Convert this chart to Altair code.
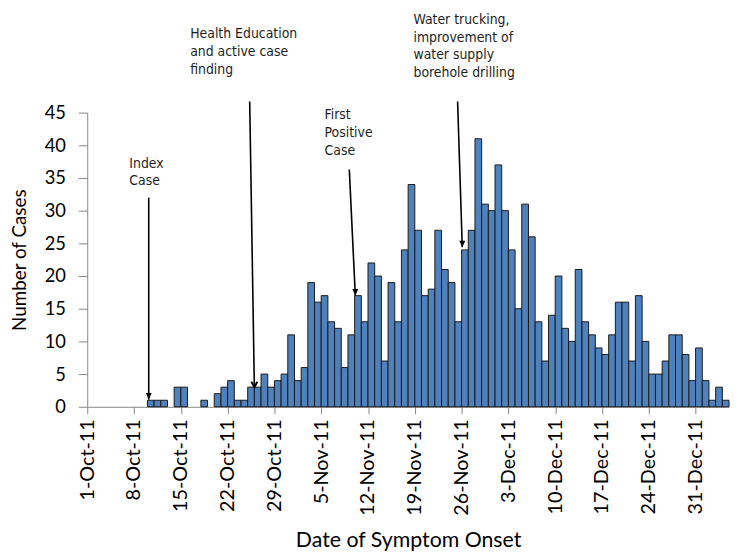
import altair as alt
import pandas as pd

# ---- data ----
first_onset = "2011-10-10"
cases = [1, 1, 1, 0, 3, 3, 0, 0, 1, 0, 2, 3, 4, 1, 1, 3, 3, 5, 3, 4, 5, 11,
         4, 6, 19, 16, 17, 13, 12, 6, 11, 17, 13, 22, 20, 7, 19, 13, 24, 34,
         27, 17, 18, 27, 21, 19, 13, 24, 27, 41, 31, 30, 37, 30, 24, 15, 31,
         26, 13, 7, 14, 20, 12, 10, 21, 13, 11, 9, 8, 11, 16, 16, 7, 17, 10,
         5, 5, 7, 11, 11, 8, 4, 9, 4, 1, 3, 1]

tick_dates = ["2011-10-01", "2011-10-08", "2011-10-15", "2011-10-22",
              "2011-10-29", "2011-11-05", "2011-11-12", "2011-11-19",
              "2011-11-26", "2011-12-03", "2011-12-10", "2011-12-17",
              "2011-12-24", "2011-12-31"]
y_ticks = [0, 5, 10, 15, 20, 25, 30, 35, 40, 45]

# annotations (day offsets from 1-Oct-11, y in cases units)
ann_text = ["Index\nCase", "Health  Education\nand  active  case\nfinding",
            "First\nPositive\nCase",
            "Water trucking,\nimprovement of\nwater supply\nborehole drilling"]
ann_text_day = [6.3, 15.4, 35.5, 48.8]
ann_text_y = [37.2, 57.0, 44.6, 59.2]
arrow_top_day = [9.2, 24.3, 39.2, 55.4]
arrow_top_y = [32.0, 46.7, 36.3, 46.7]
arrow_tip_day = [9.2, 25.0, 40.1, 56.1]
arrow_tip_y = [1.1, 3.0, 17.0, 24.4]
arrow_head = ["filled", "open", "filled", "filled"]

origin = pd.Timestamp("2011-10-01")


def iso(day):
    return (origin + pd.Timedelta(days=day)).strftime("%Y-%m-%dT%H:%M:%SZ")


dates = pd.date_range(first_onset, periods=len(cases), freq="D")
bars = pd.DataFrame({
    "start": [d.strftime("%Y-%m-%dT00:00:00Z") for d in dates],
    "end": [(d + pd.Timedelta(days=1)).strftime("%Y-%m-%dT00:00:00Z") for d in dates],
    "cases": cases,
})
bars = bars[bars["cases"] > 0]

texts = pd.DataFrame({"t": ann_text, "x": [iso(d) for d in ann_text_day], "y": ann_text_y})
rules = pd.DataFrame({
    "x": [iso(d) for d in arrow_top_day], "y": arrow_top_y,
    "x2": [iso(d) for d in arrow_tip_day], "y2": arrow_tip_y,
    "head": arrow_head,
})

FONT = "Lato"
NARROW = "Liberation Sans Narrow, DejaVu Sans Condensed, sans-serif"


def dt(s):
    y, m, d = (int(v) for v in s.split("-"))
    return alt.DateTime(year=y, month=m, date=d, utc=True)


xscale = alt.Scale(type="utc", domain=[dt("2011-10-01"), dt("2012-01-05")], padding=0)
yscale = alt.Scale(domain=[0, 45], nice=False, zero=True, padding=0)

XTITLE = "Date of Symptom Onset"
YTITLE = "Number of Cases"
xaxis = alt.Axis(values=[dt(s) for s in tick_dates],
                 labelExpr="utcFormat(datum.value, '%-d-%b-%y')",
                 labelAngle=-90, labelFontSize=20,
                 labelFont=FONT, labelColor="#000000", labelPadding=5,
                 tickSize=7, tickColor="#868686", domainColor="#868686",
                 grid=False, titleFont=FONT, titleFontSize=21.5,
                 titleFontWeight="normal", titleColor="#000000",
                 titlePadding=14, labelOverlap=False, labelFlush=False)
yaxis = alt.Axis(values=y_ticks, labelFontSize=18.5, labelFont=FONT,
                 labelColor="#000000", labelPadding=13, tickSize=9,
                 tickColor="#868686", domainColor="#868686", grid=False,
                 titleFont=FONT, titleFontSize=19, titleFontWeight="normal",
                 titleColor="#000000", titlePadding=15)

bar_layer = alt.Chart(bars).mark_bar(
    fill="#4F81BD", stroke="#1a1a1a", strokeWidth=1, opacity=1, orient="vertical"
).encode(
    x=alt.X("start:T", scale=xscale, title=XTITLE, axis=xaxis),
    x2="end:T",
    y=alt.Y("cases:Q", scale=yscale, title=YTITLE, axis=yaxis),
    y2=alt.datum(0),
)

rule_layer = alt.Chart(rules).mark_rule(color="#000000", strokeWidth=1.6).encode(
    x=alt.X("x:T", scale=xscale, title=XTITLE, axis=xaxis),
    x2="x2:T",
    y=alt.Y("y:Q", scale=yscale, title=YTITLE, axis=yaxis),
    y2="y2:Q",
)

head_filled = alt.Chart(rules).transform_filter("datum.head == 'filled'").mark_point(
    shape="M-1,-2.2L1,-2.2L0,0Z", filled=True, color="#000000", size=36, opacity=1
).encode(
    x=alt.X("x2:T", scale=xscale, title=XTITLE, axis=xaxis),
    y=alt.Y("y2:Q", scale=yscale, title=YTITLE, axis=yaxis),
)

head_open = alt.Chart(rules).transform_filter("datum.head == 'open'").mark_point(
    shape="M-1,-1.8L0,0L1,-1.8", filled=False, color="#000000", size=36,
    strokeWidth=2, opacity=1
).encode(
    x=alt.X("x2:T", scale=xscale, title=XTITLE, axis=xaxis),
    y=alt.Y("y2:Q", scale=yscale, title=YTITLE, axis=yaxis),
)

text_layer = alt.Chart(texts).mark_text(
    align="left", baseline="middle", font=NARROW, fontSize=14, color="#1e1e1e",
    lineBreak="\n", lineHeight=18
).encode(
    x=alt.X("x:T", scale=xscale, title=XTITLE, axis=xaxis),
    y=alt.Y("y:Q", scale=yscale, title=YTITLE, axis=yaxis),
    text="t:N",
)

chart = alt.layer(bar_layer, rule_layer, head_filled, head_open, text_layer).properties(
    width=648, height=297,
    autosize=alt.AutoSizeParams(type="none"),
    padding={"left": 80, "top": 103, "right": 2, "bottom": 144},
    background="#ffffff",
).configure_view(stroke=None)

chart.save("out.html", embed_options={"renderer": "svg", "actions": False})
